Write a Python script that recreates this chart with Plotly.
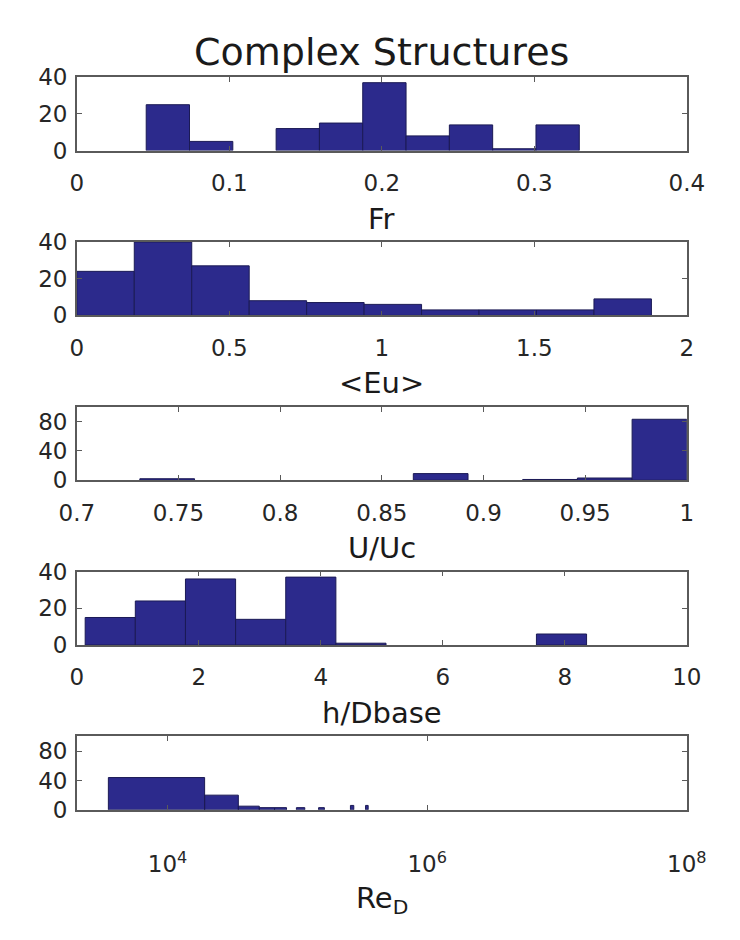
import plotly.graph_objects as go
import numpy as np

# ---------------- data ----------------
fr_start, fr_width = 0.0455, 0.0284
fr_counts = [25, 5, 0, 12, 15, 37, 8, 14, 1, 14]

eu_start, eu_width = 0.0, 0.1884
eu_counts = [24, 40, 27, 8, 7, 6, 3, 3, 3, 9]

uuc_start, uuc_width = 0.731, 0.0269
uuc_counts = [2, 0, 0, 0, 0, 9, 0, 1, 3, 83]

hd_start, hd_width = 0.137, 0.822
hd_counts = [15, 24, 36, 14, 37, 1, 0, 0, 0, 6]

re_start, re_width = 3500.0, 15800.0
re_bins = [0, 1, 2, 3, 4, 6, 9, 16, 21]
re_counts = [44, 20, 5, 3, 3, 3, 3, 6, 6]

x_labels = ["Fr", "&lt;Eu&gt;", "U/Uc", "h/Dbase", "Re<sub>D</sub>"]
title_text = "Complex Structures"

fr_ticks = [0, 0.1, 0.2, 0.3, 0.4]
eu_ticks = [0, 0.5, 1, 1.5, 2]
uuc_ticks = [0.7, 0.75, 0.8, 0.85, 0.9, 0.95, 1]
hd_ticks = [0, 2, 4, 6, 8, 10]
re_ticks = [1e4, 1e6, 1e8]
re_ticktext = ["10<sup>4</sup>", "10<sup>6</sup>", "10<sup>8</sup>"]

# ---------------- style ----------------
W, H = 740, 940
FONT = "DejaVu Sans, Verdana, sans-serif"
BAR = "#2c2a8c"
EDGE = "#1b1a55"
AX = "#5a5a5a"
box_left, box_right = 62, 705
tops = [66, 235.5, 405, 574.5, 744]
box_h = 75.5

def py(px):
    return 1 - px / H

fig = go.Figure()

def add_bar(idx, start, width, counts):
    n = len(counts)
    lefts = [start + i * width for i in range(n)]
    fig.add_trace(go.Bar(
        x=lefts, y=counts, width=[width] * n, offset=0,
        marker=dict(color=BAR, line=dict(color=EDGE,
                                         width=[1 if c > 0 else 0 for c in counts])),
        xaxis="x" if idx == 1 else f"x{idx}",
        yaxis="y" if idx == 1 else f"y{idx}",
        showlegend=False, hoverinfo="skip"))

add_bar(1, fr_start, fr_width, fr_counts)
add_bar(2, eu_start, eu_width, eu_counts)
add_bar(3, uuc_start, uuc_width, uuc_counts)
add_bar(4, hd_start, hd_width, hd_counts)

# log-axis histogram: polygons from bin edges
xs, ys = [], []
for b, c in zip(re_bins, re_counts):
    e0 = re_start + b * re_width
    e1 = e0 + re_width
    xs += [e0, e0, e1, e1, e0, None]
    ys += [0, c, c, 0, 0, None]
fig.add_trace(go.Scatter(
    x=xs, y=ys, mode="lines", fill="toself", fillcolor=BAR,
    line=dict(color=EDGE, width=1), xaxis="x5", yaxis="y5",
    showlegend=False, hoverinfo="skip"))

axis_common = dict(showline=True, linecolor=AX, linewidth=1.5, mirror="ticks",
                   ticks="inside", ticklen=5, tickcolor=AX, tickwidth=1,
                   showgrid=False, zeroline=False,
                   tickfont=dict(family=FONT, size=23, color="#262626"))

xcfg = [
    dict(range=[0, 0.4], tickvals=fr_ticks, ticktext=[f"{v:g}" for v in fr_ticks]),
    dict(range=[0, 2], tickvals=eu_ticks, ticktext=[f"{v:g}" for v in eu_ticks]),
    dict(range=[0.7, 1], tickvals=uuc_ticks, ticktext=[f"{v:g}" for v in uuc_ticks]),
    dict(range=[0, 10], tickvals=hd_ticks, ticktext=[f"{v:g}" for v in hd_ticks]),
    dict(type="log", range=[np.log10(2000), 8], tickvals=re_ticks, ticktext=re_ticktext),
]
ycfg = [
    dict(range=[0, 40], tickvals=[0, 20, 40]),
    dict(range=[0, 40], tickvals=[0, 20, 40]),
    dict(range=[0, 100], tickvals=[0, 40, 80]),
    dict(range=[0, 40], tickvals=[0, 20, 40]),
    dict(range=[0, 100], tickvals=[0, 40, 80]),
]

layout = dict(width=W, height=H, margin=dict(l=0, r=0, t=0, b=0),
              paper_bgcolor="white", plot_bgcolor="white", barmode="overlay")
for i in range(5):
    k = i + 1
    xn = "xaxis" if k == 1 else f"xaxis{k}"
    yn = "yaxis" if k == 1 else f"yaxis{k}"
    top = tops[i]
    bot = top + box_h
    layout[xn] = dict(axis_common, domain=[box_left / W, box_right / W],
                      anchor="y" if k == 1 else f"y{k}",
                      ticklabelstandoff=11 if k < 5 else 33, **xcfg[i])
    layout[yn] = dict(axis_common, domain=[py(bot), py(top)],
                      anchor="x" if k == 1 else f"x{k}",
                      ticklabelstandoff=3, **ycfg[i])
fig.update_layout(**layout)

cx = (box_left + box_right) / 2 / W
ann = [dict(text=title_text, x=cx, y=py(40), xref="paper", yref="paper",
            showarrow=False, xanchor="center", yanchor="middle",
            font=dict(family=FONT, size=38, color="#1a1a1a"))]
label_y = [tops[i] + box_h + 70 for i in range(4)] + [912]
for i, t in enumerate(x_labels):
    ann.append(dict(text=t, x=cx, y=py(label_y[i]), xref="paper", yref="paper",
                    showarrow=False, xanchor="center", yanchor="middle",
                    font=dict(family=FONT, size=29, color="#1a1a1a")))
fig.update_layout(annotations=ann)

fig.write_html("out.html")
